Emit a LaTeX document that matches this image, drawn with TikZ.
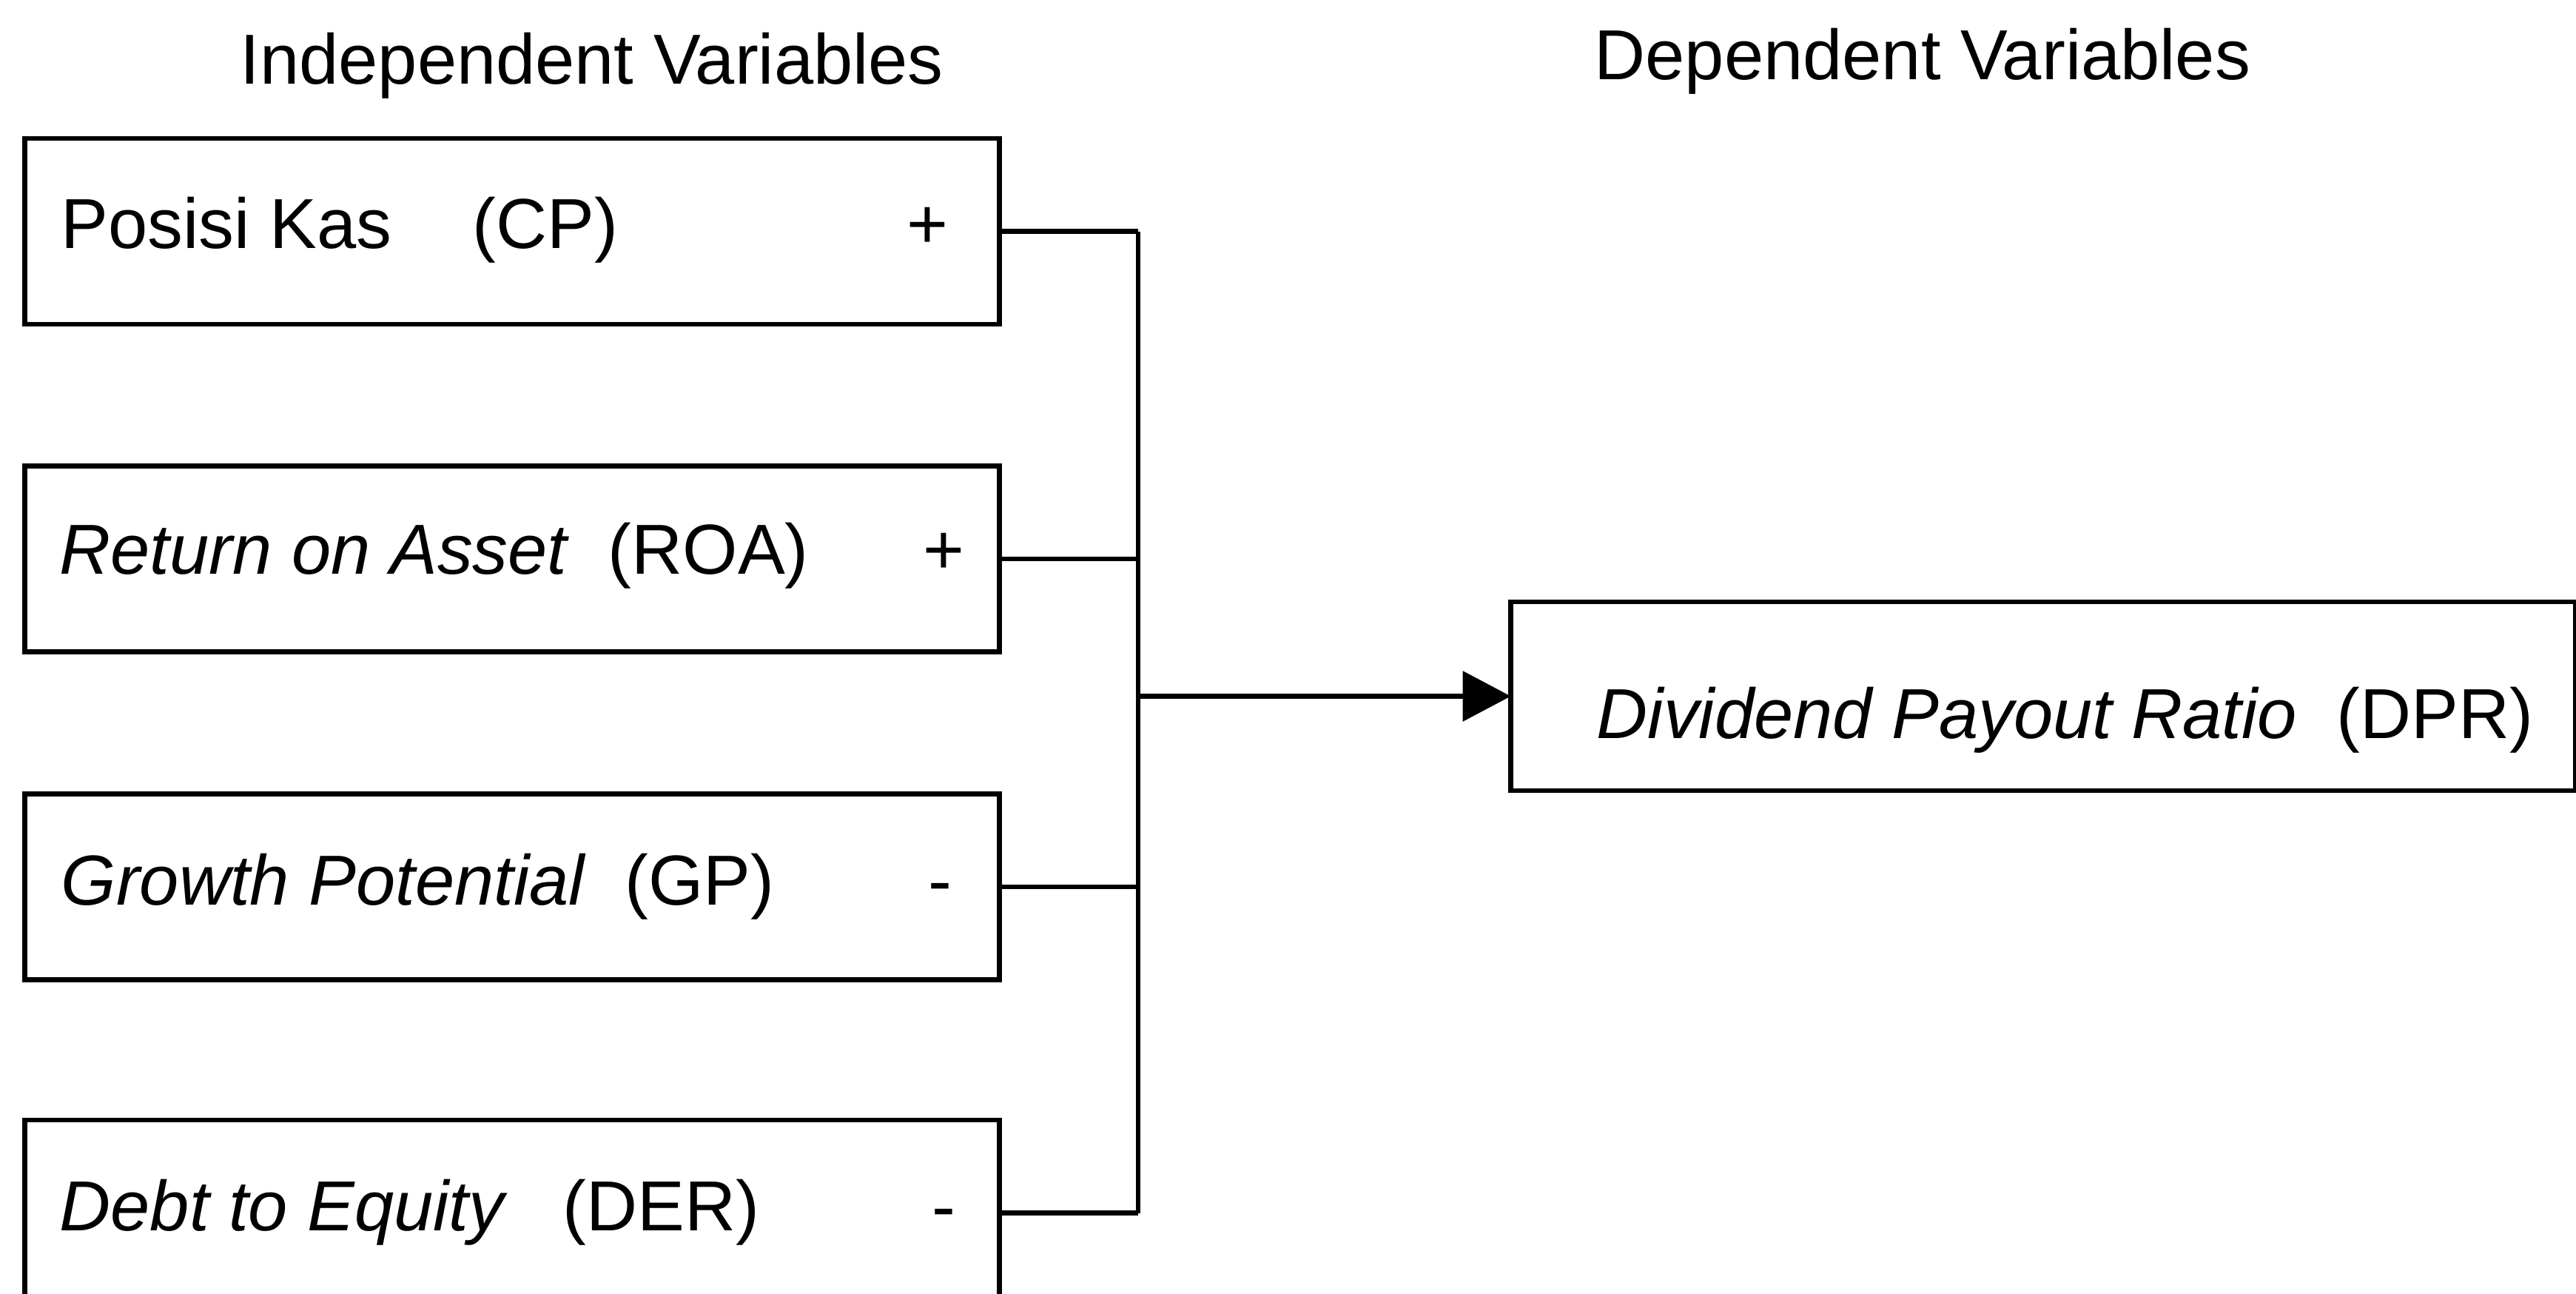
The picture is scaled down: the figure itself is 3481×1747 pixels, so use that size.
\documentclass[tikz,border=0pt]{standalone}
\usepackage{fontspec}
\setmainfont{Liberation Sans}
\usetikzlibrary{arrows.meta}
\begin{document}
\begin{tikzpicture}[x=0.01cm,y=-0.01cm,
  every node/.style={font=\fontsize{27.2}{32}\selectfont},
  varbox/.style={draw, line width=0.065cm, inner sep=0pt, outer sep=0pt, minimum width=13.16cm, minimum height=2.51cm},
  depbox/.style={draw, line width=0.065cm, inner sep=0pt, outer sep=0pt, minimum width=14.38cm, minimum height=2.55cm},
  lbl/.style={anchor=base west, inner sep=0pt},
  sgn/.style={anchor=base, inner sep=0pt},
  conn/.style={line width=0.065cm},
  arr/.style={line width=0.065cm, -{Triangle[length=0.65cm,width=0.67cm]}}
]
\clip (0,0) rectangle (3481,1747);
\fill[white] (0,0) rectangle (3481,1747);

% headers
\node[lbl] (hind) at (324,113) {Independent Variables};
\node[lbl] (hdep) at (2154,107) {Dependent Variables};

% independent variable boxes
\node[varbox] (cp)  at (692,312.5) {};
\node[varbox] (roa) at (692,755) {};
\node[varbox] (gp)  at (692,1198) {};
\node[varbox] (der) at (692,1638.5) {};

% dependent variable box
\node[depbox] (dpr) at (2761,940.5) {};

% labels
\node[lbl] (cpA) at (82,335) {Posisi Kas};
\node[lbl] (cpB) at (638,335) {(CP)};
\node[sgn] (cpS) at (1253,335) {+};

\node[lbl] (roaA) at (80,775) {\itshape Return on Asset};
\node[lbl] (roaB) at (821,775) {(ROA)};
\node[sgn] (roaS) at (1275,775) {+};

\node[lbl] (gpA) at (82,1222) {\itshape Growth Potential};
\node[lbl] (gpB) at (844,1222) {(GP)};
\node[sgn] (gpS) at (1270,1222) {-};

\node[lbl] (derA) at (80,1662) {\itshape Debt to Equity};
\node[lbl] (derB) at (760,1662) {(DER)};
\node[sgn] (derS) at (1275,1662) {-};

\node[lbl] (dprA) at (2157,997) {\itshape Dividend Payout Ratio};
\node[lbl] (dprB) at (3157,997) {(DPR)};

% connectors
\coordinate (j) at (1538,940.5);
\draw[conn] (cp.east) -- (cp.east -| j);
\draw[conn] (roa.east) -- (roa.east -| j);
\draw[conn] (gp.east) -- (gp.east -| j);
\draw[conn] (der.east) -- (der.east -| j);
\draw[conn] (cp.east -| j) -- (der.east -| j);
\draw[arr] (j |- dpr.west) -- (dpr.west);
\end{tikzpicture}
\end{document}
